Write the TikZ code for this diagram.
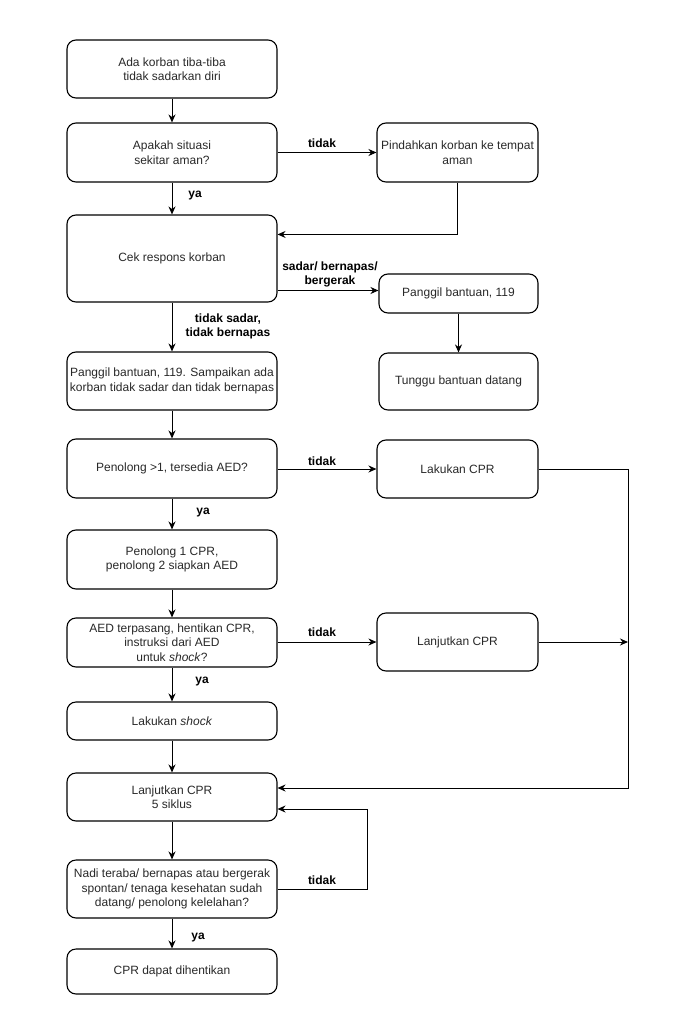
\documentclass[tikz,border=0pt]{standalone}
\usepackage{fontspec}
\setmainfont{Liberation Sans}
\usetikzlibrary{arrows.meta,calc}
\definecolor{txt}{RGB}{40,40,40}
\begin{document}
\begin{tikzpicture}[x=1pt,y=-1pt,
  box/.style={draw=black,line width=1.1pt,rounded corners=9pt,align=center,
    text=txt,font=\fontsize{12pt}{14.5pt}\selectfont,inner sep=2pt},
  lbl/.style={text=black,font=\fontsize{12pt}{14pt}\selectfont\bfseries,align=center,inner sep=0pt},
  arr/.style={draw=black,line width=1pt,-{Stealth[length=8pt,width=7pt]}},
  ln/.style={draw=black,line width=1pt}]
\useasboundingbox (0,0) rectangle (681,1024);
\node[box,minimum width=210pt,minimum height=58pt] (b1) at (172,69) {Ada korban tiba-tiba\\tidak sadarkan diri};
\node[box,minimum width=210pt,minimum height=59pt] (b2) at (172,152.5) {Apakah situasi\\sekitar aman?};
\node[box,minimum width=161pt,minimum height=59pt] (r1) at (457.5,152.5) {Pindahkan korban ke tempat\\aman};
\node[box,minimum width=210pt,minimum height=87pt] (b3) at (172,258.5) {Cek respons korban};
\node[box,minimum width=159pt,minimum height=39pt] (r2) at (458.5,293.5) {Panggil bantuan, 119};
\node[box,minimum width=159pt,minimum height=57pt] (r3) at (458.5,381.5) {Tunggu bantuan datang};
\node[box,minimum width=210pt,minimum height=58pt] (b4) at (172,381) {Panggil bantuan, 119. Sampaikan ada\\korban tidak sadar dan tidak bernapas};
\node[box,minimum width=210pt,minimum height=59pt] (b5) at (172,468.5) {Penolong >1, tersedia AED?};
\node[box,minimum width=161pt,minimum height=58pt] (r4) at (457.5,469) {Lakukan CPR};
\node[box,minimum width=210pt,minimum height=59pt] (b6) at (172,559.5) {Penolong 1 CPR,\\penolong 2 siapkan AED};
\node[box,minimum width=210pt,minimum height=49pt] (b7) at (172,642.5) {AED terpasang, hentikan CPR,\\instruksi dari AED\\untuk \textit{shock}?};
\node[box,minimum width=161pt,minimum height=58pt] (r5) at (457.5,642) {Lanjutkan CPR};
\node[box,minimum width=210pt,minimum height=38pt] (b8) at (172,721) {Lakukan \textit{shock}};
\node[box,minimum width=210pt,minimum height=48pt] (b9) at (172,797) {Lanjutkan CPR\\5 siklus};
\node[box,minimum width=210pt,minimum height=58pt] (b10) at (172,889) {Nadi teraba/ bernapas atau bergerak\\spontan/ tenaga kesehatan sudah\\datang/ penolong kelelahan?};
\node[box,minimum width=210pt,minimum height=45pt] (b11) at (172,971.5) {CPR dapat dihentikan};
\coordinate (vline) at (628,469);
% vertical flow
\draw[arr] (b1) -- (b2);
\draw[arr] (b2) -- (b3);
\draw[arr] (b3) -- (b4);
\draw[arr] (b4) -- (b5);
\draw[arr] (b5) -- (b6);
\draw[arr] (b6) -- (b7);
\draw[arr] (b7) -- (b8);
\draw[arr] (b8) -- (b9);
\draw[arr] (b9) -- (b10);
\draw[arr] (b10) -- (b11);
\draw[arr] (r2) -- (r3);
% horizontal branches
\draw[arr] (b2) -- (r1);
\draw[arr] (r1.south) |- ([yshift=-20pt]b3.north east);
\draw[arr] ([yshift=3pt]b3.east |- r2.west) -- ([yshift=3pt]r2.west);
\draw[arr] (b5.east |- r4.west) -- (r4.west);
\draw[arr] (b7.east |- r5.west) -- (r5.west);
\draw[arr] (r4.east) -- (vline) |- ([yshift=9pt]b9.east);
\draw[arr] (r5.east) -- (r5.east -| vline);
\draw[arr] (b10.east) -- ++(90,0) |- ([yshift=-12pt]b9.east);
% labels
\node[lbl] (l1) at (322,143) {tidak};
\node[lbl] (l2) at (195,196) {ya};
\node[lbl] (l3) at (330,274) {sadar/ bernapas/\\bergerak};
\node[lbl] (l4) at (228,326) {tidak sadar,\\tidak bernapas};
\node[lbl] (l5) at (322,461) {tidak};
\node[lbl] (l6) at (203,513) {ya};
\node[lbl] (l7) at (322,632) {tidak};
\node[lbl] (l8) at (202,682) {ya};
\node[lbl] (l9) at (322,880) {tidak};
\node[lbl] (l10) at (198,938) {ya};
\end{tikzpicture}
\end{document}
